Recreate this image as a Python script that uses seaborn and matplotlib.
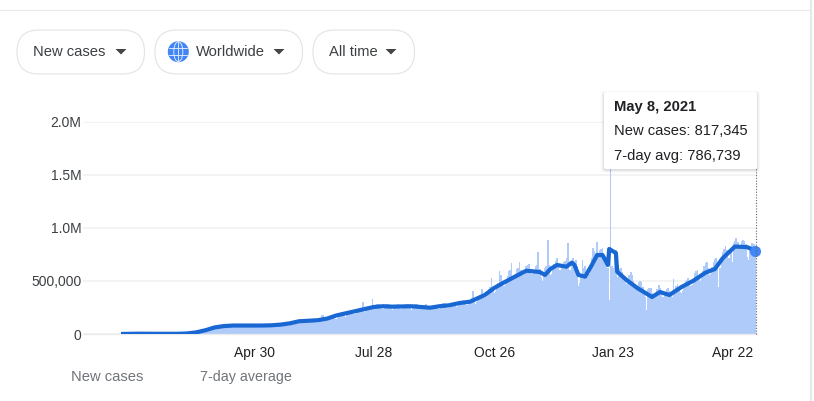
import numpy as np
import pandas as pd
import seaborn as sns
import matplotlib
matplotlib.use("Agg")
import matplotlib.pyplot as plt
from matplotlib.patches import FancyBboxPatch, Polygon, Circle, Ellipse

# ---------- data (thousands of cases; day 0 = Jan 21 2020) ----------
daily_cases = [
    0.1,0.2,0.3,0.5,0.7,0.8,1, 1.5,1.8,2,2,2.5,3,3, 3,4,3.5,4,3,3,3, 2.5,15,6,2,2,2,2,
    1.5,1.5,1,1,1,1,1.5, 1.5,1.5,2,2,2,2,2, 2,2.5,2.5,3,4,4,5, 5,6,7,8,10,11,12,
    14,16,20,25,28,32,32, 36,42,48,60,66,62,60, 64,72,76,82,84,78,72, 70,75,88,86,92,80,72,
    70,72,80,90,90,84,75, 68,70,78,84,86,80,72, 68,72,78,90,88,88,75, 70,75,86,88,90,78,70,
    72,78,90,92,94,82,72, 76,82,92,96,100,88,78, 84,92,102,108,112,102,92, 100,112,122,130,134,122,112,
    104,116,128,136,140,130,116, 106,120,132,178,176,140,122, 118,128,150,158,176,170,140,
    140,152,178,190,200,188,170, 160,178,200,214,226,210,184, 184,196,220,234,248,230,305,
    205,225,240,258,266,250,327, 235,262,280,285,284,262,240, 238,258,272,280,284,262,242,
    222,256,270,278,282,262,240, 236,262,276,280,284,266,242, 225,262,278,282,284,265,240,
    232,252,270,276,280,258,235, 230,245,262,272,276,256,236, 240,262,278,288,290,268,242,
    244,272,288,296,298,272,255, 262,292,306,314,318,300,270, 272,296,316,335,406,310,285,
    300,320,340,365,427,345,335, 350,385,420,440,528,420,390, 410,440,480,594,560,490,450,
    450,500,550,590,600,673,530, 530,570,610,625,682,600,560, 560,600,640,650,665,610,570,
    560,590,640,650,776,610,540, 500,570,620,640,887,650,560, 570,610,660,690,720,650,600,
    590,630,680,690,720,858,600, 600,650,720,690,700,640,453, 480,540,698,620,640,580,540,
    570,640,720,811,780,760,868, 740,790,800,810,720,670,640, 620,320,1560,640,620,780,790,
    540,570,610,620,587,530,500, 470,510,560,587,560,500,450, 400,440,490,500,490,440,400,
    350,226,420,430,430,390,350, 350,390,420,462,430,390,350, 350,395,420,430,410,380,350,
    519,400,450,470,440,400,390, 410,450,500,510,530,490,450, 460,510,580,590,600,550,500,
    530,590,640,670,680,620,560, 570,630,680,710,720,640,443, 620,700,770,800,830,790,720,
    720,790,680,860,880,905,870, 780,820,880,890,880,850,730, 700,810,670,860,850,817,
]
avg_days = [0,14,28,42,49,56,63,70,77,84,98,105,112,119,126,133,140,147,154,161,168,175,182,189,
            196,203,210,217,224,231,238,245,253,261,272,279,286,293,303,313,317,321,326,333,337,
            339,342,347,352,356,360,364,365,370,371,378,386,397,403,410,419,428,437,444,450,459,468,474]
avg_values = [0.5,3,2,2,5,15,35,62,75,80,80,80,82,88,100,120,125,130,145,175,195,215,235,255,
              262,258,260,262,255,248,262,270,292,305,368,434,484,531,597,585,557,613,651,635,673,
              651,557,541,651,745,745,651,802,764,587,509,434,349,396,368,443,503,579,613,717,825,820,786.739]
y_ticks = [0,500,1000,1500,2000]
y_tick_labels = ["0","500,000","1.0M","1.5M","2.0M"]
x_tick_days = [100,189,279,368,457]
x_tick_labels = ["Apr 30","Jul 28","Oct 26","Jan 23","Apr 22"]
pill_labels = ["New cases","Worldwide","All time"]
legend_labels = ["New cases","7-day average"]
tooltip_title = "May 8, 2021"
tooltip_lines = ["New cases: 817,345","7-day avg: 786,739"]

W, H = 814, 401
sns.set_theme(style="white")
plt.rcParams["font.family"] = ["Liberation Sans","DejaVu Sans"]
fig = plt.figure(figsize=(W/100, H/100), dpi=100, facecolor="white")

# chart axes: pixel box 83..757 x 122..334
L, R, T, B = 83, 757, 122, 334
ax = fig.add_axes([L/W, 1-B/H, (R-L)/W, (B-T)/H])
k = (755-121)/474
df_bar = pd.DataFrame({"day": np.arange(len(daily_cases)), "cases": daily_cases})
df_avg = pd.DataFrame({"day": avg_days, "avg": avg_values})
sns.barplot(data=df_bar, x="day", y="cases", native_scale=True, width=1.35,
            color="#aecbfa", saturation=1, linewidth=0, ax=ax, zorder=2)
sns.lineplot(data=df_avg, x="day", y="avg", color="#1967d2", linewidth=3.0, ax=ax, zorder=3,
             solid_joinstyle="round", solid_capstyle="butt", errorbar=None)
ax.plot([avg_days[-1]], [avg_values[-1]], "o", color="#4285f4", ms=8, mew=0, zorder=4, clip_on=False)
ax.set_xlim(-(121-L)/k, 474+(R-755)/k)
ax.set_ylim(0, 2000)
ax.set_xlabel(""); ax.set_ylabel("")
ax.set_yticks(y_ticks, y_tick_labels, fontsize=10, color="#3c4043")
ax.set_xticks(x_tick_days, x_tick_labels, fontsize=10, color="#202124")
ax.tick_params(axis="y", length=0, pad=1)
ax.tick_params(axis="x", length=6, width=1, color="#ebebeb", pad=2.5)
ax.grid(axis="y", color="#f1f1f1", linewidth=1.2, zorder=1)
ax.grid(axis="x", visible=False)
ax.set_axisbelow(True)
for s in ["top","left","right"]:
    ax.spines[s].set_visible(False)
ax.spines["bottom"].set_color("#ebebeb")
ax.spines["bottom"].set_linewidth(1)
ax.patch.set_alpha(0)

# overlay in pixel coordinates
ov = fig.add_axes([0,0,1,1], zorder=5)
ov.set_xlim(0,W); ov.set_ylim(H,0); ov.axis("off"); ov.patch.set_alpha(0)
ov.plot([0,810],[9.5,9.5],color="#ebebeb",lw=0.9)
ov.plot([811,811],[0,H],color="#e8e8e8",lw=1.6)

pills = [(17,144.5,33),(155,302.5,196),(313,414.5,329)]
tri = [121,279,391]
for (a,b,tx),lab,c in zip(pills,pill_labels,tri):
    ov.add_patch(FancyBboxPatch((a,30),b-a,44,boxstyle="round,pad=0,rounding_size=22",
                                fc="white",ec="#e2e3e6",lw=0.8))
    ov.text(tx,52,lab,fontsize=10.6,color="#3c4043",va="center",ha="left")
    ov.add_patch(Polygon([(c-5.5,49),(c+5.5,49),(c,54.5)],fc="#444746",ec="none"))

# globe icon
gx, gy, gr = 178.3, 51.7, 10.5
ov.add_patch(Circle((gx,gy),gr,fc="#4285f4",ec="none"))
ov.add_patch(Ellipse((gx,gy),9,2*gr-1,fc="none",ec="#dbe7fd",lw=0.7))
ov.plot([gx,gx],[gy-gr,gy+gr],color="#dbe7fd",lw=0.7)
ov.plot([gx-gr+1.5,gx+gr-1.5],[gy-3.6,gy-3.6],color="#dbe7fd",lw=0.7)
ov.plot([gx-gr+1.5,gx+gr-1.5],[gy+3.6,gy+3.6],color="#dbe7fd",lw=0.7)

# hover line
ov.plot([755.5,755.5],[169,334],color="#666666",lw=0.8,ls=(0,(1,1.5)))

# tooltip with soft shadow
for i,al in zip([4,3,2,1],[0.015,0.025,0.035,0.05]):
    ov.add_patch(FancyBboxPatch((604-i*0.8,92+1-i*0.5),153+i*1.6,77+i*1.2,boxstyle="round,pad=0,rounding_size=3",
                                fc="black",ec="none",alpha=al))
ov.add_patch(FancyBboxPatch((604,92),153,77,boxstyle="round,pad=0,rounding_size=2",fc="white",ec="none"))
ov.text(614,107,tooltip_title,fontsize=10.6,fontweight="bold",color="#202124",va="center")
ov.text(614,131,tooltip_lines[0],fontsize=10.6,color="#202124",va="center")
ov.text(614,156,tooltip_lines[1],fontsize=10.6,color="#202124",va="center")

# legend labels
ov.text(71,377,legend_labels[0],fontsize=10.6,color="#70757a",va="center")
ov.text(200,377,legend_labels[1],fontsize=10.3,color="#70757a",va="center")

print(len(daily_cases), len(avg_days), len(avg_values))
fig.savefig("out.png", dpi=100, facecolor="white")
